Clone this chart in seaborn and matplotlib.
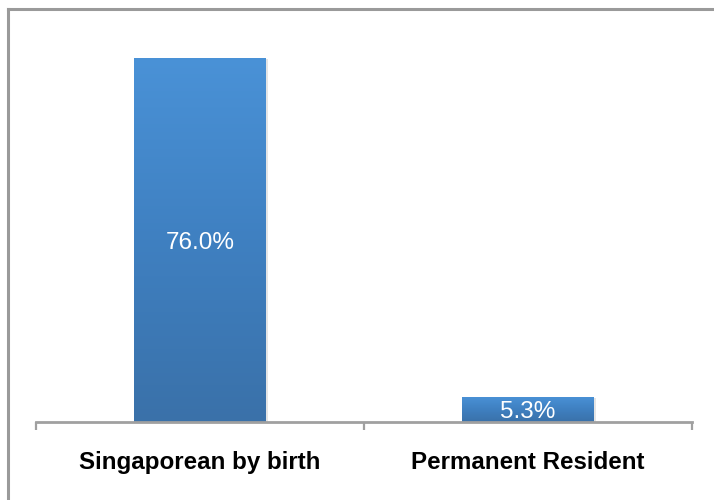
import numpy as np
import pandas as pd
import matplotlib
matplotlib.use("Agg")
import matplotlib.pyplot as plt
import matplotlib.colors as mcolors
import matplotlib.patheffects as pe
from matplotlib.lines import Line2D
import seaborn as sns

categories = ["Singaporean by birth", "Permanent Resident"]
values = [76.0, 5.3]
value_labels = ["76.0%", "5.3%"]


def gradient_bars(ax, patches):
    """
    Swap the flat bar fill for a vertical blue gradient (light top, dark bottom).
    """
    cmap = mcolors.LinearSegmentedColormap.from_list(
        "bar_grad", ["#3A71A9", "#3F80C1", "#4A92D7"]
    )
    grad = np.linspace(0, 1, 256).reshape(-1, 1)
    for p in patches:
        x0, y0 = p.get_x(), p.get_y()
        w, h = p.get_width(), p.get_height()
        p.set_facecolor("none")
        p.set_edgecolor("none")
        # soft drop shadow behind the bar
        shadow = plt.Rectangle((x0, y0), w, h, facecolor="white", edgecolor="none", zorder=1,
                               path_effects=[pe.SimplePatchShadow(offset=(2, -1), shadow_rgbFace="#9a9a9a", alpha=0.25)])
        ax.add_patch(shadow)
        im = ax.imshow(grad, cmap=cmap, aspect="auto", origin="lower",
                       extent=[x0, x0 + w, y0, y0 + h], zorder=2, interpolation="bicubic")
        im.set_clip_path(p)


def plot_chart(output_file):
    df = pd.DataFrame({"category": categories, "value": values})

    sns.set_style("white")
    plt.rcParams["font.family"] = ["Liberation Sans", "DejaVu Sans"]

    fig = plt.figure(figsize=(7.14, 5), dpi=100)
    ax = fig.add_axes([36 / 714, 78 / 500, 656 / 714, 412 / 500])

    sns.barplot(data=df, x="category", y="value", color="#4A92D7", width=0.40, ax=ax,
                saturation=1, zorder=2)
    gradient_bars(ax, ax.patches)

    ax.set_xlim(-0.5, 1.5)
    ax.set_ylim(0, 86)

    for i, (v, lab) in enumerate(zip(values, value_labels)):
        ax.text(i, v / 2 - 0.6, lab, ha="center", va="center", color="white",
                fontsize=17.5, zorder=5)

    for s in ["top", "right", "left"]:
        ax.spines[s].set_visible(False)
    ax.spines["bottom"].set_color("#a0a0a0")
    ax.spines["bottom"].set_linewidth(2)
    ax.spines["bottom"].set_zorder(4)

    ax.set_yticks([])
    ax.set_xticks(range(len(categories)))
    ax.set_xticklabels(categories, fontsize=17.4, fontweight="bold", color="black")
    ax.set_xticks([-0.5, 0.5, 1.5], minor=True)
    ax.tick_params(axis="x", which="major", length=0, pad=21)
    ax.tick_params(axis="x", which="minor", direction="out", length=5.5, width=1.6,
                   color="#a0a0a0", bottom=True)
    ax.set_xlabel("")
    ax.set_ylabel("")

    # frame on the left and top edges of the picture
    fig.add_artist(Line2D([7.5 / 714, 7.5 / 714], [0, 1 - 8.5 / 500], color="#9a9a9a", lw=2.2,
                          transform=fig.transFigure, solid_capstyle="projecting"))
    fig.add_artist(Line2D([7.5 / 714, 1], [1 - 8.5 / 500, 1 - 8.5 / 500], color="#9a9a9a", lw=2.2,
                          transform=fig.transFigure, solid_capstyle="projecting"))

    fig.savefig(output_file, dpi=100)


if __name__ == "__main__":
    plot_chart("out.png")
